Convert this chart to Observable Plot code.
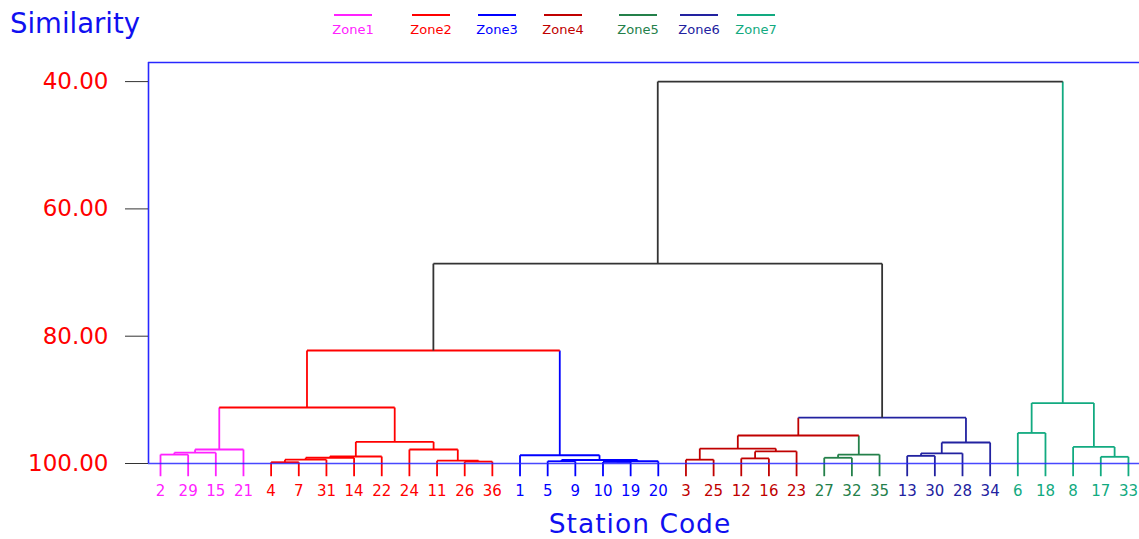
<!DOCTYPE html>
<html><head><meta charset="utf-8">
<script src="https://cdn.jsdelivr.net/npm/d3@7"></script>
<script src="https://cdn.jsdelivr.net/npm/@observablehq/plot@0.6"></script>
<style>
body{margin:0;background:#fff;}
#wrap{position:relative;width:1139px;height:539px;font-family:"DejaVu Sans",sans-serif;overflow:hidden;background:#fff}
.t{position:absolute;white-space:nowrap;line-height:1}
.lg{position:absolute;width:38px}
.lg .ln{height:2px;width:38px}
.lg .lb{position:absolute;top:9px;left:50%;transform:translateX(-50%);font-size:13px;line-height:1;white-space:nowrap}
</style></head><body><div id="wrap"></div>
<script>
// ---- data ----
const stations = ["2","29","15","21","4","7","31","14","22","24","11","26","36","1","5","9","10","19","20","3","25","12","16","23","27","32","35","13","30","28","34","6","18","8","17","33"];
const stationZone = [1,1,1,1,2,2,2,2,2,2,2,2,2,3,3,3,3,3,3,4,4,4,4,4,5,5,5,6,6,6,6,7,7,7,7,7];
const zoneNames = ["Zone1","Zone2","Zone3","Zone4","Zone5","Zone6","Zone7"];
const zoneColors = ["#ff22ff","#ff0000","#0000ff","#c00000","#24804a","#2222a0","#12aa80"];
const linkBlack = "#333333";
const yTicks = [40, 60, 80, 100];
const leafDepth = 102;
// merges: id, left child, right child, similarity, bar zone, stem zone (0 = black)
const merges = [
  ["a1","2","29",98.6,1,1],
  ["a2","a1","15",98.3,1,1],
  ["a3","a2","21",97.8,1,1],
  ["b1","4","7",99.8,2,2],
  ["b2","b1","31",99.4,2,2],
  ["b3","b2","14",99.1,2,2],
  ["b4","b3","22",98.9,2,2],
  ["b5","26","36",99.7,2,2],
  ["b6","11","b5",99.55,2,2],
  ["b7","24","b6",97.8,2,2],
  ["b8","b4","b7",96.6,2,2],
  ["c1","5","9",99.65,3,3],
  ["c2","10","19",99.75,3,3],
  ["c3","c2","20",99.65,3,3],
  ["c4","c1","c3",99.45,3,3],
  ["c5","1","c4",98.7,3,3],
  ["d1","3","25",99.4,4,4],
  ["d2","12","16",99.2,4,4],
  ["d3","d2","23",98.1,4,4],
  ["d4","d1","d3",97.65,4,4],
  ["e1","27","32",99.1,5,5],
  ["e2","e1","35",98.6,5,5],
  ["f1","13","30",98.8,6,6],
  ["f2","f1","28",98.4,6,6],
  ["f3","f2","34",96.7,6,6],
  ["g1","6","18",95.2,7,7],
  ["g2","17","33",98.95,7,7],
  ["g3","8","g2",97.4,7,7],
  ["g4","g1","g3",90.5,7,7],
  ["h1","a3","b8",91.2,2,2],
  ["h2","h1","c5",82.25,2,0],
  ["h3","d4","e2",95.6,4,4],
  ["h4","h3","f3",92.8,6,0],
  ["h5","h2","h4",68.6,0,0],
  ["h6","h5","g4",40.0,0,0]
];

// ---- build segments ----
const col = z => z === 0 ? linkBlack : zoneColors[z - 1];
const nodes = new Map();
stations.forEach((s, i) => nodes.set(s, {x: i, y: leafDepth, stem: stationZone[i]}));
const segs = [];
for (const [id, l, r, sim, bar, stem] of merges) {
  const a = nodes.get(l), b = nodes.get(r);
  segs.push({x1: a.x, x2: a.x, y1: a.y, y2: sim, c: col(a.stem)});
  segs.push({x1: b.x, x2: b.x, y1: b.y, y2: sim, c: col(b.stem)});
  segs.push({x1: a.x, x2: b.x, y1: sim, y2: sim, c: col(bar)});
  nodes.set(id, {x: (a.x + b.x) / 2, y: sim, stem});
}

const xDomain = [-0.434, stations.length - 1 + 0.4];
const yDomain = [37, 100];
const frameBlue = "#2828ff";

const chart = Plot.plot({
  width: 1139, height: 539,
  marginLeft: 148, marginRight: 0, marginTop: 62, marginBottom: 76,
  x: {domain: xDomain, axis: null},
  y: {domain: yDomain, reverse: true, axis: null},
  color: {type: "identity"},
  style: {fontFamily: "DejaVu Sans", background: "transparent", overflow: "visible"},
  marks: [
    Plot.ruleY([yDomain[0]], {stroke: frameBlue, strokeWidth: 1.6}),
    Plot.ruleX([xDomain[0]], {stroke: frameBlue, strokeWidth: 1.6}),
    Plot.link(segs, {x1: "x1", y1: "y1", x2: "x2", y2: "y2", stroke: "c", strokeWidth: 1.8}),
    Plot.ruleY([yDomain[1]], {stroke: frameBlue, strokeWidth: 1.6, strokeOpacity: 0.85}),
    Plot.axisY({ticks: yTicks, tickFormat: d3.format(".2f"), tickSize: 23, tickPadding: 17,
      fontSize: 23, fill: "#ff0000", stroke: "#333", label: null}),
    Plot.text(stations, {x: (d, i) => i, y: () => yDomain[1], dy: 28, text: d => d,
      fill: (d, i) => col(stationZone[i]), fontSize: 15})
  ]
});

const wrap = document.getElementById("wrap");
wrap.appendChild(chart);

function addText(txt, css) {
  const d = document.createElement("div");
  d.className = "t"; d.textContent = txt;
  Object.assign(d.style, css);
  wrap.appendChild(d);
}
addText("Similarity", {left: "10px", top: "10px", fontSize: "27.5px", color: "#1010f0"});
addText("Station Code", {left: "640px", top: "511px", fontSize: "26.5px", letterSpacing: "1px", color: "#1010f0", transform: "translateX(-50%)"});

const legendLeft = [334, 412, 478, 544, 619, 680, 737];
zoneNames.forEach((name, i) => {
  const g = document.createElement("div");
  g.className = "lg";
  g.style.left = legendLeft[i] + "px";
  g.style.top = "13.5px";
  const ln = document.createElement("div"); ln.className = "ln"; ln.style.background = zoneColors[i];
  const lb = document.createElement("div"); lb.className = "lb"; lb.style.color = zoneColors[i]; lb.textContent = name;
  g.appendChild(ln); g.appendChild(lb);
  wrap.appendChild(g);
});
</script></body></html>
